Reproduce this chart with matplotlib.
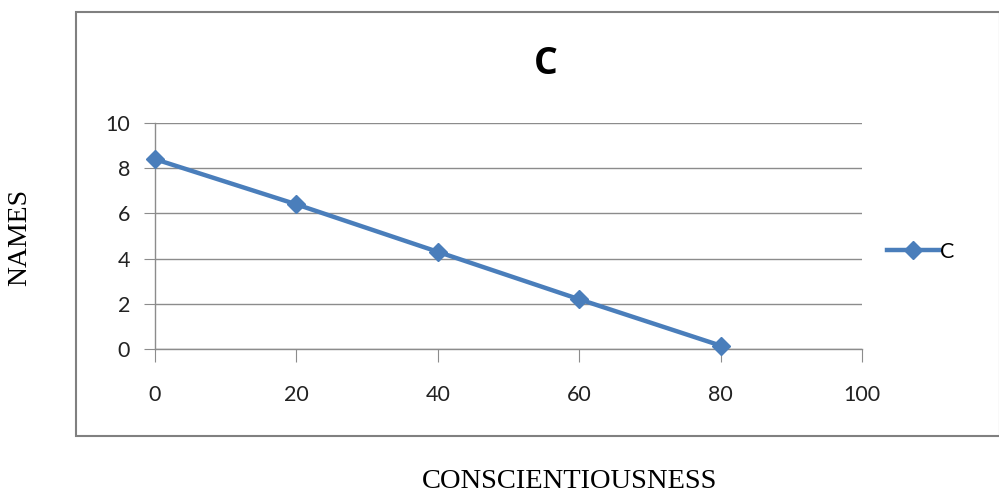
import matplotlib.pyplot as plt
from matplotlib.patches import Rectangle

# data
x_vals = [0, 20, 40, 60, 80]
y_vals = [8.4, 6.4, 4.3, 2.2, 0.15]
x_ticks = [0, 20, 40, 60, 80, 100]
y_ticks = [0, 2, 4, 6, 8, 10]

blue = '#4A7EBB'
grey = '#8C8C8C'

fig = plt.figure(figsize=(9.99, 4.95), dpi=100)

# outer chart frame (Excel style)
fig.patches.append(Rectangle((76 / 999, 1 - 436 / 495), (1000 - 76) / 999, (436 - 12) / 495,
                             transform=fig.transFigure, fill=False,
                             edgecolor='#808080', linewidth=1.5))

ax = fig.add_axes([155 / 999, 1 - 349 / 495, (862 - 155) / 999, (349 - 123) / 495])
ax.plot(x_vals, y_vals, color=blue, linewidth=3.2, marker='D', markersize=9.5,
        label='C', clip_on=False, zorder=3)

ax.set_xlim(0, 100)
ax.set_ylim(0, 10)
ax.set_xticks(x_ticks)
ax.set_yticks(y_ticks)
ax.grid(axis='y', color=grey, linewidth=1)
for s in ['top', 'right']:
    ax.spines[s].set_visible(False)
for s in ['left', 'bottom']:
    ax.spines[s].set_color(grey)
    ax.spines[s].set_linewidth(1)
ax.tick_params(axis='x', length=9, color=grey, pad=17, labelsize=15.5)
ax.tick_params(axis='y', length=8, color=grey, pad=10, labelsize=15.5)
for lab in ax.get_xticklabels() + ax.get_yticklabels():
    lab.set_family('Lato')
    lab.set_color('#222222')

fig.text(546 / 999, 1 - 64 / 495, 'C', ha='center', va='center',
         fontsize=27, fontweight='bold', family='Open Sans')

leg = ax.legend(loc='center left', bbox_to_anchor=(1.008, 0.43), frameon=False,
                prop={'family': 'Lato', 'size': 15.5}, handlelength=2.4,
                handletextpad=0.05)

fig.text(20 / 999, 1 - 237 / 495, 'NAMES', rotation=90, ha='center', va='center',
         fontsize=20, family='Liberation Serif')
fig.text(570 / 999, 1 - 482 / 495, 'CONSCIENTIOUSNESS', ha='center', va='center',
         fontsize=20.5, family='Liberation Serif')

fig.savefig('out.png', dpi=100)
